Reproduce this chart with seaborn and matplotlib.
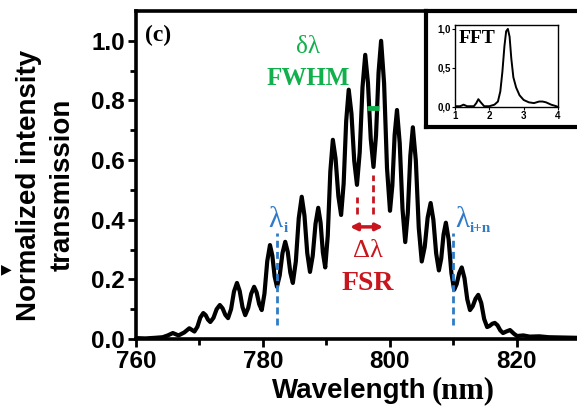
import numpy as np
import pandas as pd
import matplotlib
matplotlib.use('Agg')
import matplotlib.pyplot as plt
import seaborn as sns

# main transmission spectrum
wavelength = [760.0, 761.5, 763.0, 764.2, 765.0, 765.8, 766.7, 767.6, 768.4, 769.2,
              769.67, 770.13, 770.6, 770.97, 771.33, 771.7, 772.2, 772.7, 773.2, 773.63,
              774.07, 774.5, 774.97, 775.43, 775.9, 776.33, 776.77, 777.2, 777.67, 778.13,
              778.6, 779.0, 779.4, 779.8, 780.23, 780.67, 781.1, 781.47, 781.83, 782.2,
              782.63, 783.07, 783.5, 783.9, 784.3, 784.7, 785.17, 785.63, 786.1, 786.53,
              786.97, 787.4, 787.83, 788.27, 788.7, 789.07, 789.43, 789.8, 790.2, 790.6,
              791.0, 791.43, 791.87, 792.3, 792.7, 793.1, 793.5, 793.93, 794.37, 794.8,
              795.23, 795.67, 796.1, 796.53, 796.97, 797.4, 797.8, 798.2, 798.6, 799.07,
              799.53, 800.0, 800.37, 800.73, 801.1, 801.53, 801.97, 802.4, 802.8, 803.2,
              803.6, 804.07, 804.53, 805.0, 805.47, 805.93, 806.4, 806.83, 807.27, 807.7,
              808.07, 808.43, 808.8, 809.23, 809.67, 810.1, 810.5, 810.9, 811.3, 811.73,
              812.17, 812.6, 813.03, 813.47, 813.9, 814.37, 814.83, 815.3, 815.7, 816.1,
              816.5, 816.93, 817.37, 817.8, 818.3, 818.9, 819.5, 820.0, 821.0, 822.0,
              823.5, 825.0, 827.0, 829.5]
intensity = [0.003, 0.002, 0.004, 0.006, 0.012, 0.020, 0.012, 0.022, 0.036, 0.025,
             0.041, 0.072, 0.087, 0.080, 0.065, 0.057, 0.071, 0.100, 0.114, 0.103,
             0.081, 0.070, 0.100, 0.159, 0.188, 0.161, 0.107, 0.080, 0.104, 0.151,
             0.175, 0.156, 0.117, 0.097, 0.152, 0.261, 0.315, 0.280, 0.210, 0.175,
             0.213, 0.288, 0.326, 0.292, 0.223, 0.188, 0.260, 0.405, 0.477, 0.414,
             0.288, 0.225, 0.279, 0.386, 0.440, 0.390, 0.290, 0.240, 0.347, 0.561,
             0.668, 0.605, 0.479, 0.416, 0.521, 0.731, 0.836, 0.756, 0.597, 0.517,
             0.626, 0.844, 0.953, 0.859, 0.671, 0.577, 0.683, 0.894, 1.000, 0.858,
             0.573, 0.430, 0.515, 0.684, 0.768, 0.657, 0.436, 0.325, 0.421, 0.614,
             0.710, 0.598, 0.373, 0.260, 0.309, 0.407, 0.456, 0.400, 0.287, 0.230,
             0.270, 0.350, 0.390, 0.334, 0.221, 0.165, 0.184, 0.221, 0.240, 0.204,
             0.133, 0.097, 0.110, 0.135, 0.148, 0.121, 0.067, 0.040, 0.044, 0.051,
             0.054, 0.046, 0.029, 0.020, 0.025, 0.030, 0.018, 0.010, 0.012, 0.008,
             0.009, 0.006, 0.005, 0.004]

# FFT inset
fft_x = [1.0, 1.15, 1.25, 1.35, 1.55, 1.62, 1.68, 1.75, 1.85, 2.0, 2.15, 2.25, 2.32,
         2.38, 2.44, 2.49, 2.54, 2.59, 2.64, 2.70, 2.78, 2.88, 3.0, 3.15, 3.3, 3.45,
         3.55, 3.65, 3.8, 3.95, 4.0]
fft_y = [0.01, 0.01, 0.03, 0.01, 0.01, 0.05, 0.10, 0.06, 0.01, 0.01, 0.03, 0.07, 0.20,
         0.45, 0.78, 0.97, 1.0, 0.90, 0.62, 0.38, 0.25, 0.15, 0.09, 0.06, 0.05, 0.07,
         0.07, 0.06, 0.03, 0.01, 0.0]

# annotation positions (nm)
lam_i = 782.2
lam_in = 809.9
fsr_left, fsr_right = 794.8, 797.4
fwhm_span = (796.4, 798.3)

blue = '#2F7BC8'
red = '#C8161E'
green = '#12B04C'
serif = 'Liberation Serif'
sans = 'Liberation Sans'

sns.set_style('ticks')
plt.rcParams['font.family'] = [sans, 'DejaVu Sans']
plt.rcParams.update({'text.color': 'black', 'axes.edgecolor': 'black',
                     'xtick.color': 'black', 'ytick.color': 'black',
                     'axes.labelcolor': 'black'})

df = pd.DataFrame({'wl': wavelength, 'I': intensity})
fft = pd.DataFrame({'f': fft_x, 'a': fft_y})

fig = plt.figure(figsize=(5.77, 4.08), dpi=100)
ax = fig.add_axes([136/577, 69/408, 441/577, 328/408])
sns.lineplot(data=df, x='wl', y='I', ax=ax, color='black', lw=3, solid_joinstyle='round')

ax.set_xlim(760, 829.45)
ax.set_ylim(0, 1.1)
ax.set_xticks([760, 780, 800, 820])
ax.set_xticks([770, 790, 810], minor=True)
ax.set_yticks([0, 0.2, 0.4, 0.6, 0.8, 1.0])
ax.set_yticks([0.1, 0.3, 0.5, 0.7, 0.9], minor=True)
ax.set_yticklabels(['0.0', '0.2', '0.4', '0.6', '0.8', '1.0'])
ax.tick_params(which='major', direction='out', length=6, width=2, labelsize=17.5, pad=2,
               color='black', labelcolor='black')
ax.tick_params(which='minor', direction='out', length=4, width=2, color='black')
for lbl in ax.get_xticklabels() + ax.get_yticklabels():
    lbl.set_fontweight('bold')
for s in ['left', 'bottom', 'top']:
    ax.spines[s].set_linewidth(2.6)
    ax.spines[s].set_color('black')
ax.spines['right'].set_visible(False)
ax.set_xlabel('')
ax.set_ylabel('')

# labels
fig.text(46/577, (408-185)/408, 'Normalized intensity\ntransmission', rotation=90,
         ha='center', va='center', fontsize=20, fontweight='bold', linespacing=1.35)
fig.text(427/577, 10/408, 'Wavelength', ha='right', va='baseline', fontsize=20,
         fontweight='bold')
fig.text(432/577, 10/408, '(nm)', ha='left', va='baseline', fontsize=22,
         fontweight='bold', family=serif)
fig.text(1/577, (408-269)/408, '\u25B6', ha='left', va='center', fontsize=10,
         family='DejaVu Sans')

ax.text(761.4, 1.055, '(c)', ha='left', va='top', fontsize=17, fontweight='bold',
        family=serif)

# FWHM
ax.text(787.1, 0.98, '\u03b4\u03bb', ha='center', va='center', fontsize=18,
        color=green, family=serif)
ax.text(787.1, 0.875, 'FWHM', ha='center', va='center', fontsize=18,
        fontweight='bold', color=green, family=serif)
ax.plot(fwhm_span, [0.775, 0.775], color=green, lw=3.5, solid_capstyle='butt')

# FSR
ax.plot([fsr_left, fsr_left], [0.42, 0.476], color=red, lw=2, ls=(0, (2.5, 1.5)))
ax.plot([fsr_right, fsr_right], [0.42, 0.55], color=red, lw=2, ls=(0, (2.5, 1.5)))
ax.annotate('', xy=(793.7, 0.376), xytext=(798.9, 0.376),
            arrowprops=dict(arrowstyle='<|-|>', color=red, lw=2.5, mutation_scale=10,
                            shrinkA=0, shrinkB=0))
ax.text(796.5, 0.295, '\u0394\u03bb', ha='center', va='center', fontsize=19,
        color=red, family=serif)
ax.text(796.5, 0.185, 'FSR', ha='center', va='center', fontsize=20,
        fontweight='bold', color=red, family=serif)

# lambda markers
for xv in [lam_i, lam_in]:
    ax.plot([xv, xv], [0.047, 0.356], color=blue, lw=2, ls=(0, (2.5, 1.5)))
ax.text(780.9, 0.375, '\u03bb', ha='left', va='baseline', fontsize=21, color=blue,
        family=serif)
ax.text(783.3, 0.36, 'i', ha='left', va='baseline', fontsize=11, fontweight='bold',
        color=blue, family=serif)
ax.text(810.2, 0.375, '\u03bb', ha='left', va='baseline', fontsize=21, color=blue,
        family=serif)
ax.text(812.6, 0.36, 'i+n', ha='left', va='baseline', fontsize=11, fontweight='bold',
        color=blue, family=serif)

# inset frame
frame = fig.add_axes([426/577, (408-127)/408, 160/577, 116/408])
frame.set_xticks([])
frame.set_yticks([])
frame.set_facecolor('white')
for s in frame.spines.values():
    s.set_linewidth(3)
    s.set_color('black')

ins = fig.add_axes([455/577, (408-107)/408, 103/577, 82/408])
sns.lineplot(data=fft, x='f', y='a', ax=ins, color='black', lw=1.4)
ins.set_xlim(1, 4)
ins.set_ylim(0, 1.05)
ins.set_xticks([1, 2, 3, 4])
ins.set_yticks([0, 0.5, 1.0])
ins.set_yticklabels(['0,0', '0,5', '1,0'])
ins.tick_params(direction='out', length=2, width=0.8, labelsize=7, pad=1,
                color='black', labelcolor='black')
for lbl in ins.get_xticklabels() + ins.get_yticklabels():
    lbl.set_fontweight('bold')
for s in ins.spines.values():
    s.set_linewidth(1.0)
    s.set_color('black')
ins.set_xlabel('')
ins.set_ylabel('')
ins.text(1.1, 0.98, 'FFT', ha='left', va='top', fontsize=14, fontweight='bold',
         family=serif)

fig.savefig('out.png', dpi=100)
